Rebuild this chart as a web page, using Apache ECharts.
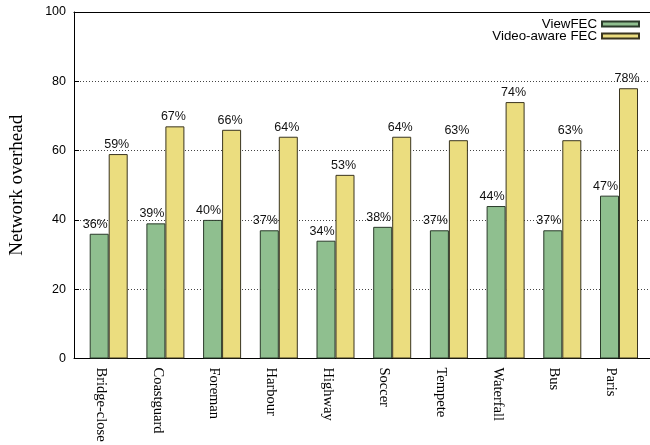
<!DOCTYPE html>
<html>
<head>
<meta charset="utf-8">
<script src="https://cdn.jsdelivr.net/npm/echarts@6/dist/echarts.min.js"></script>
<style>
html,body{margin:0;padding:0;background:#fff;}
#c{width:650px;height:445px;}
</style>
</head>
<body>
<div id="c"></div>
<script>
var categories = ['Bridge-close','Coastguard','Foreman','Harbour','Highway','Soccer','Tempete','Waterfall','Bus','Paris'];
var viewFEC = [36,39,40,37,34,38,37,44,37,47];
var videoAwareFEC = [59,67,66,64,53,64,63,74,63,78];
var yTicks = [0,20,40,60,80,100];

var SANS = '"Liberation Sans", Arial, Helvetica, sans-serif';
var SERIF = '"Liberation Serif", "Times New Roman", serif';

var chart = echarts.init(document.getElementById('c'), null, {renderer:'canvas'});
var plotTop = 12, plotBottom = 358.5;
var gridH = plotBottom - plotTop;

var option = {
  animation: false,
  backgroundColor: '#fff',
  legend: {
    orient: 'vertical',
    right: 10,
    top: 17.5,
    padding: 0,
    align: 'right',
    icon: 'rect',
    itemWidth: 37,
    itemHeight: 5,
    itemGap: -1,
    textStyle: {fontFamily: SANS, fontSize: 13.3, color: '#000', lineHeight: 12},
    data: ['ViewFEC','Video-aware FEC']
  },
  grid: [
    {left: 71.5, top: plotTop, width: 585, height: gridH},
    {left: 80.35, top: plotTop, width: 567, height: gridH},
    {left: 72.35, top: plotTop, width: 567, height: gridH}
  ],
  xAxis: [
    {gridIndex: 0, type: 'value', min: 0, max: 1, position: 'bottom',
     axisLine: {show: true, onZero: false, lineStyle: {color: '#000', width: 1}},
     axisTick: {show: false}, axisLabel: {show: false}, splitLine: {show: false}},
    {gridIndex: 0, type: 'value', min: 0, max: 1, position: 'top',
     axisLine: {show: true, onZero: false, lineStyle: {color: '#000', width: 1}},
     axisTick: {show: false}, axisLabel: {show: false}, splitLine: {show: false}},
    {gridIndex: 1, type: 'category', data: categories,
     axisLine: {show: false}, axisTick: {show: false}, axisLabel: {show: false}},
    {gridIndex: 2, type: 'category', data: categories,
     axisLine: {show: false}, axisTick: {show: false},
     axisLabel: {show: true, rotate: -90, margin: 9, interval: 0,
       fontFamily: SERIF, fontSize: 14.5, color: '#000'}}
  ],
  yAxis: [
    {gridIndex: 0, type: 'value', min: 0, max: 100, interval: 20,
     axisLine: {show: true, onZero: false, lineStyle: {color: '#000', width: 1}},
     axisTick: {show: true, inside: true, length: 5, lineStyle: {color: '#000'}},
     axisLabel: {margin: 8, fontFamily: SANS, fontSize: 12.5, color: '#000'},
     splitLine: {show: true, lineStyle: {color: '#444', width: 1, type: [1,2]}},
     name: 'Network overhead', nameLocation: 'middle', nameGap: 47,
     nameTextStyle: {fontFamily: SERIF, fontSize: 19, color: '#000'}},
    {gridIndex: 1, type: 'value', min: 0, max: 100, show: false},
    {gridIndex: 2, type: 'value', min: 0, max: 100, show: false}
  ],
  series: [
    {name: 'ViewFEC', type: 'bar', xAxisIndex: 2, yAxisIndex: 1,
     data: viewFEC, barWidth: 19, barGap: '0%',
     itemStyle: {color: '#8fbf8f', borderColor: '#2a3a2a', borderWidth: 1},
     label: {show: true, position: 'top', distance: 3, offset: [-4, 0],
       formatter: '{c}%', fontFamily: SANS, fontSize: 12.5, color: '#111'}},
    {name: 'Video-aware FEC', type: 'bar', xAxisIndex: 2, yAxisIndex: 1,
     data: videoAwareFEC, barWidth: 19, barGap: '0%',
     itemStyle: {color: '#ebdd7f', borderColor: '#3a3520', borderWidth: 1},
     label: {show: true, position: 'top', distance: 3, offset: [-1.5, 0],
       formatter: '{c}%', fontFamily: SANS, fontSize: 12.5, color: '#111'}}
  ]
};
chart.setOption(option);
</script>
</body>
</html>
